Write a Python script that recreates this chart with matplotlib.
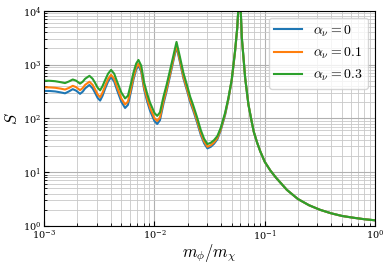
import numpy as np
import matplotlib
matplotlib.use('Agg')
import matplotlib.pyplot as plt

plt.rcParams['mathtext.fontset']='cm'
plt.rcParams['font.family']='serif'
plt.rcParams['font.serif']=['DejaVu Serif']

# values, kept as decades (log10)
log_ratio=[-3.00,-2.95,-2.90,-2.85,-2.81,-2.775,-2.74,-2.71,-2.674,-2.65,
           -2.628,-2.589,-2.56,-2.538,-2.515,-2.492,-2.47,-2.447,-2.42,-2.393,
           -2.365,-2.338,-2.30,-2.266,-2.24,-2.21,-2.19,-2.165,-2.145,-2.12,
           -2.093,-2.065,-2.04,-2.00,-1.975,-1.95,-1.918,-1.89,-1.858,-1.83,
           -1.80,-1.77,-1.737,-1.70,-1.676,-1.65,-1.616,-1.58,-1.55,-1.52,
           -1.49,-1.46,-1.43,-1.40,-1.36,-1.33,-1.30,-1.27,-1.25,-1.238,
           -1.229,-1.22,-1.208,-1.19,-1.178,-1.16,-1.148,-1.12,-1.10,-1.07,
           -1.04,-1.00,-0.95,-0.90,-0.80,-0.70,-0.60,-0.50,-0.40,-0.30,
           -0.20,-0.10,0.00]

# shared tail (right of the big resonance), same for every alpha_nu
log_tail=[4.700,4.100,3.490,3.050,2.750,2.450,2.250,1.950,1.750,1.550,
          1.380,1.190,1.030,0.900,0.670,0.500,0.385,0.300,0.235,0.185,
          0.153,0.125,0.104]

log_S_a0=[2.510,2.508,2.500,2.482,2.465,2.500,2.542,2.515,2.455,2.495,
          2.557,2.620,2.557,2.475,2.380,2.330,2.420,2.550,2.685,2.766,
          2.685,2.520,2.308,2.192,2.250,2.522,2.722,2.910,2.980,2.868,
          2.530,2.308,2.142,1.950,1.895,1.965,2.274,2.502,2.795,3.054,
          3.330,3.055,2.740,2.480,2.300,2.152,1.939,1.692,1.536,1.441,
          1.470,1.527,1.610,1.770,2.060,2.350,2.696,3.230,3.665,4.090]+log_tail

log_S_a01=[2.577,2.575,2.568,2.552,2.535,2.565,2.604,2.580,2.523,2.562,
           2.622,2.680,2.622,2.540,2.445,2.392,2.480,2.602,2.733,2.810,
           2.733,2.575,2.370,2.258,2.312,2.575,2.765,2.945,3.015,2.905,
           2.575,2.358,2.195,2.005,1.950,2.018,2.319,2.542,2.830,3.086,
           3.360,3.086,2.772,2.512,2.334,2.186,1.973,1.725,1.568,1.471,
           1.499,1.553,1.634,1.790,2.078,2.364,2.708,3.240,3.672,4.095]+log_tail

log_S_a03=[2.700,2.698,2.690,2.672,2.655,2.685,2.722,2.700,2.645,2.680,
           2.735,2.790,2.735,2.660,2.570,2.520,2.600,2.710,2.830,2.900,
           2.830,2.680,2.480,2.370,2.420,2.670,2.850,3.020,3.085,2.980,
           2.660,2.450,2.290,2.100,2.045,2.110,2.404,2.620,2.900,3.150,
           3.420,3.150,2.840,2.580,2.400,2.250,2.033,1.780,1.620,1.521,
           1.545,1.595,1.670,1.820,2.100,2.380,2.720,3.250,3.680,4.100]+log_tail

labels=[r'$\alpha_\nu=0$',r'$\alpha_\nu=0.1$',r'$\alpha_\nu=0.3$']

ratio=10**np.array(log_ratio)

fig=plt.figure(figsize=(3.9,2.68),dpi=100)
ax=fig.add_axes([0.113,0.157,0.849,0.803])

for s,lab in zip([log_S_a0,log_S_a01,log_S_a03],labels):
    ax.plot(ratio,10**np.array(s),lw=1.5,label=lab)

ax.set_xscale('log')
ax.set_yscale('log')
ax.set_xlim(1e-3,1)
ax.set_ylim(1,1e4)
ax.grid(True,which='major',color='#b0b0b0',lw=0.8)
ax.grid(True,which='minor',color='#c8c8c8',lw=0.6)
ax.tick_params(which='both',direction='in',labelsize=7,pad=2)
ax.set_xlabel(r'$m_\phi/m_\chi$',fontsize=12,labelpad=-1)
ax.set_ylabel(r'$S$',fontsize=12,labelpad=1)
ax.legend(loc='upper right',fontsize=10)

fig.savefig('out.png',dpi=100)
